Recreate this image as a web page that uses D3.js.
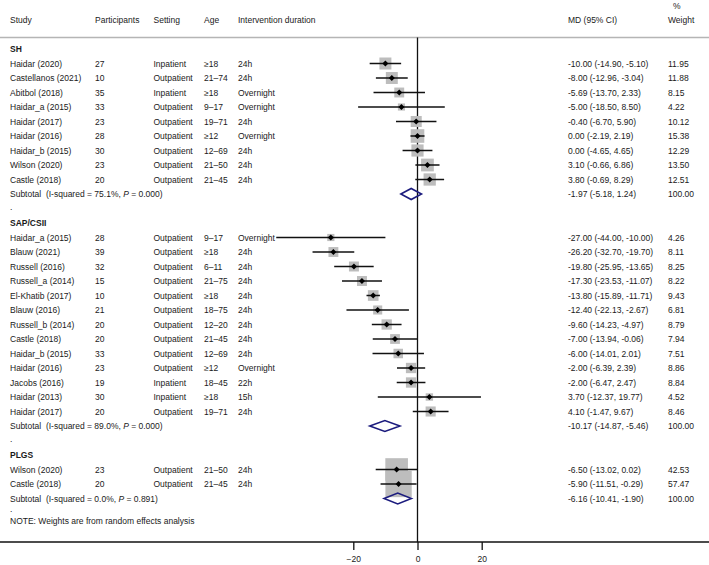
<!DOCTYPE html>
<html><head><meta charset="utf-8">
<script src="https://cdn.jsdelivr.net/npm/d3@7"></script>
<style>body{margin:0;background:#fff}svg{display:block}text{font-family:"Liberation Sans",Arial,sans-serif;font-size:8.5px;fill:#1a1a1a;white-space:pre}</style>
</head><body>
<svg id="c" width="709" height="565"></svg>
<script>
const headers = ["Study","Participants","Setting","Age","Intervention duration","MD (95% CI)","Weight"];
const groups = ["SH","SAP/CSII","PLGS"];
const studies = [
 ["Haidar (2020)","Castellanos (2021)","Abitbol (2018)","Haidar_a (2015)","Haidar (2017)","Haidar (2016)","Haidar_b (2015)","Wilson (2020)","Castle (2018)"],
 ["Haidar_a (2015)","Blauw (2021)","Russell (2016)","Russell_a (2014)","El-Khatib (2017)","Blauw (2016)","Russell_b (2014)","Castle (2018)","Haidar_b (2015)","Haidar (2016)","Jacobs (2016)","Haidar (2013)","Haidar (2017)"],
 ["Wilson (2020)","Castle (2018)"]
];
const participants = [
 [27,10,35,33,23,28,30,23,20],
 [28,39,32,15,10,21,20,20,33,23,19,30,20],
 [23,20]
];
const settings = [
 ["Inpatient","Outpatient","Inpatient","Outpatient","Outpatient","Outpatient","Outpatient","Outpatient","Outpatient"],
 ["Outpatient","Outpatient","Outpatient","Outpatient","Outpatient","Outpatient","Outpatient","Outpatient","Outpatient","Outpatient","Inpatient","Inpatient","Outpatient"],
 ["Outpatient","Outpatient"]
];
const ages = [
 ["≥18","21–74","≥18","9–17","19–71","≥12","12–69","21–50","21–45"],
 ["9–17","≥18","6–11","21–75","≥18","18–75","12–20","21–45","12–69","≥12","18–45","≥18","19–71"],
 ["21–50","21–45"]
];
const durations = [
 ["24h","24h","Overnight","Overnight","24h","Overnight","24h","24h","24h"],
 ["Overnight","24h","24h","24h","24h","24h","24h","24h","24h","Overnight","22h","15h","24h"],
 ["24h","24h"]
];
const md = [
 [-10.00,-8.00,-5.69,-5.00,-0.40,0.00,0.00,3.10,3.80],
 [-27.00,-26.20,-19.80,-17.30,-13.80,-12.40,-9.60,-7.00,-6.00,-2.00,-2.00,3.70,4.10],
 [-6.50,-5.90]
];
const lower = [
 [-14.90,-12.96,-13.70,-18.50,-6.70,-2.19,-4.65,-0.66,-0.69],
 [-44.00,-32.70,-25.95,-23.53,-15.89,-22.13,-14.23,-13.94,-14.01,-6.39,-6.47,-12.37,-1.47],
 [-13.02,-11.51]
];
const upper = [
 [-5.10,-3.04,2.33,8.50,5.90,2.19,4.65,6.86,8.29],
 [-10.00,-19.70,-13.65,-11.07,-11.71,-2.67,-4.97,-0.06,2.01,2.39,2.47,19.77,9.67],
 [0.02,-0.29]
];
const weights = [
 [11.95,11.88,8.15,4.22,10.12,15.38,12.29,13.50,12.51],
 [4.26,8.11,8.25,8.22,9.43,6.81,8.79,7.94,7.51,8.86,8.84,4.52,8.46],
 [42.53,57.47]
];
const subMd = [-1.97,-10.17,-6.16];
const subLo = [-5.18,-14.87,-10.41];
const subHi = [1.24,-5.46,-1.90];
const subI2 = ["75.1%","89.0%","0.0%"];
const subP = ["0.000","0.000","0.891"];
const tickVals = [-20,0,20];
const note = "NOTE: Weights are from random effects analysis";

const svg = d3.select("#c");
const W = 709;
const x = d3.scaleLinear().domain([-20,20]).range([353.3,481.7]);
const rowY = d3.scaleLinear().domain([0,1]).range([49,63.5]);
const colX = [10,95,153.5,204,238,568,668];
const boxK = 3.47;
const axisY = 542;
const f = v => v.toFixed(2);

// header
headers.forEach((h,i)=>{
  svg.append("text").attr("x",colX[i]).attr("y",19.5).attr("dominant-baseline","central").text(h);
});
svg.append("text").attr("x",673).attr("y",6).attr("dominant-baseline","central").text("%");
svg.append("line").attr("x1",0).attr("x2",W).attr("y1",37.5).attr("y2",37.5).attr("stroke","#b5b5b5").attr("stroke-width",1.5);

// null line
svg.append("line").attr("x1",x(0)).attr("x2",x(0)).attr("y1",37.5).attr("y2",axisY).attr("stroke","#111").attr("stroke-width",1.3);

let r = 0;
const plotG = svg.append("g");
groups.forEach((g,gi)=>{
  if (gi>0) {
    svg.append("text").attr("x",10).attr("y",rowY(r)-2).attr("dominant-baseline","central").text(".");
    r++;
  }
  svg.append("text").attr("x",10).attr("y",rowY(r)).attr("dominant-baseline","central").attr("font-weight","bold").text(g);
  r++;
  studies[gi].forEach((s,si)=>{
    const y = rowY(r);
    const cells = [s, participants[gi][si], settings[gi][si], ages[gi][si], durations[gi][si],
      `${f(md[gi][si])} (${f(lower[gi][si])}, ${f(upper[gi][si])})`, f(weights[gi][si])];
    cells.forEach((c,ci)=>{
      svg.append("text").attr("x",colX[ci]).attr("y",y).attr("dominant-baseline","central").text(c);
    });
    const side = boxK*Math.sqrt(weights[gi][si]);
    plotG.append("rect").attr("x",x(md[gi][si])-side/2).attr("y",y-side/2).attr("width",side).attr("height",side).attr("fill","#bdbdbd");
    svg.append("line").attr("x1",x(lower[gi][si])).attr("x2",x(upper[gi][si])).attr("y1",y).attr("y2",y).attr("stroke","#111").attr("stroke-width",1.5);
    const cx = x(md[gi][si]), d = 3;
    svg.append("path").attr("d",`M${cx-d},${y}L${cx},${y-d}L${cx+d},${y}L${cx},${y+d}Z`).attr("fill","#000");
    r++;
  });
  const y = rowY(r);
  const st = svg.append("text").attr("x",10).attr("y",y).attr("dominant-baseline","central");
  st.append("tspan").text(`Subtotal  (I-squared = ${subI2[gi]}, `);
  st.append("tspan").attr("font-style","italic").text("P");
  st.append("tspan").text(` = ${subP[gi]})`);
  svg.append("text").attr("x",colX[5]).attr("y",y).attr("dominant-baseline","central").text(`${f(subMd[gi])} (${f(subLo[gi])}, ${f(subHi[gi])})`);
  svg.append("text").attr("x",colX[6]).attr("y",y).attr("dominant-baseline","central").text("100.00");
  const h = 5.5;
  svg.append("path").attr("d",`M${x(subLo[gi])},${y}L${x(subMd[gi])},${y-h}L${x(subHi[gi])},${y}L${x(subMd[gi])},${y+h}Z`)
    .attr("fill","none").attr("stroke","#1c1c7e").attr("stroke-width",1.6);
  r++;
});
svg.append("text").attr("x",10).attr("y",rowY(r)-4.5).attr("dominant-baseline","central").text(".");
svg.append("text").attr("x",10).attr("y",rowY(r)+7.5).attr("dominant-baseline","central").text(note);

// axis
svg.append("line").attr("x1",0).attr("x2",W).attr("y1",axisY).attr("y2",axisY).attr("stroke","#111").attr("stroke-width",1.5);
const ax = svg.append("g").attr("transform",`translate(0,${axisY})`)
  .call(d3.axisBottom(x).tickValues(tickVals).tickSize(8).tickPadding(6).tickFormat(d3.format("d")));
ax.select(".domain").remove();
ax.selectAll(".tick line").attr("stroke","#111").attr("stroke-width",1.3);
ax.selectAll(".tick text").attr("font-size","8.5px").attr("font-family","Liberation Sans, Arial, sans-serif").attr("fill","#1a1a1a");
</script>
</body></html>
